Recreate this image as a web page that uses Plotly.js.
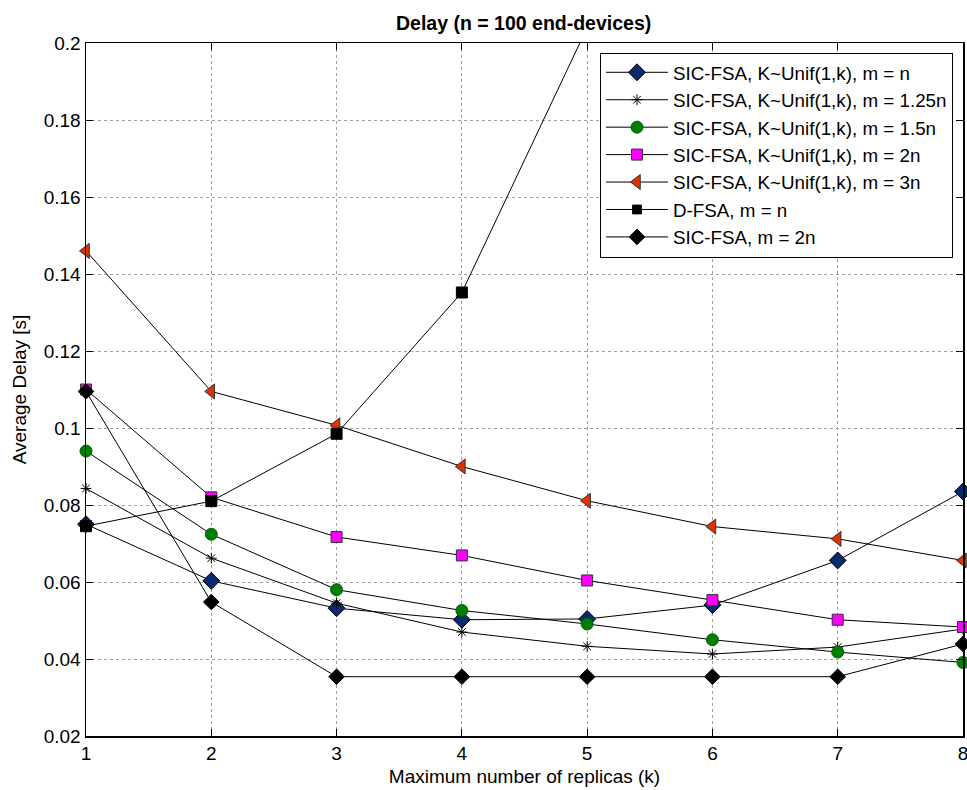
<!DOCTYPE html>
<html>
<head>
<meta charset="utf-8">
<script src="https://cdn.plot.ly/plotly-3.0.1.min.js"></script>
<style>html,body{margin:0;padding:0;background:#fff;}#chart{width:967px;height:790px;}</style>
</head>
<body>
<div id="chart"></div>
<script>
// ---- data ----
const k = [1, 2, 3, 4, 5, 6, 7, 8];
const kDfsa = [1, 2, 3, 4, 5];

const sicUnifN    = [0.0750, 0.0603, 0.0532, 0.0502, 0.0504, 0.0540, 0.0656, 0.0835];
const sicUnif125n = [0.0843, 0.0662, 0.0545, 0.0470, 0.0433, 0.0413, 0.0431, 0.0478];
const sicUnif15n  = [0.0940, 0.0724, 0.0580, 0.0526, 0.0491, 0.0450, 0.0418, 0.0391];
const sicUnif2n   = [0.1100, 0.0820, 0.0717, 0.0669, 0.0604, 0.0553, 0.0502, 0.0483];
const sicUnif3n   = [0.1460, 0.1095, 0.1007, 0.0900, 0.0811, 0.0744, 0.0712, 0.0656];
const dfsaN       = [0.0745, 0.0810, 0.0985, 0.1352, 0.2040];
const sic2n       = [0.1095, 0.0548, 0.0354, 0.0354, 0.0354, 0.0354, 0.0354, 0.0439];

const seriesNames = [
  'SIC-FSA, K~Unif(1,k), m = n',
  'SIC-FSA, K~Unif(1,k), m = 1.25n',
  'SIC-FSA, K~Unif(1,k), m = 1.5n',
  'SIC-FSA, K~Unif(1,k), m = 2n',
  'SIC-FSA, K~Unif(1,k), m = 3n',
  'D-FSA, m = n',
  'SIC-FSA, m = 2n'
];

const yTickVals = [0.02, 0.04, 0.06, 0.08, 0.1, 0.12, 0.14, 0.16, 0.18, 0.2];
const yTickText = ['0.02', '0.04', '0.06', '0.08', '0.1', '0.12', '0.14', '0.16', '0.18', '0.2'];
const xTickText = ['1', '2', '3', '4', '5', '6', '7', '8'];

const titleText = 'Delay (n = 100 end-devices)';
const xTitle = 'Maximum number of replicas (k)';
const yTitle = 'Average Delay [s]';

// ---- traces ----
const lineStyle = {color: '#000000', width: 1};
function tr(x, y, name, marker) {
  marker.opacity = 1;
  return {x: x, y: y, name: name, type: 'scatter', mode: 'lines+markers',
          line: lineStyle, marker: marker, cliponaxis: false};
}
const traces = [
  tr(k, sicUnifN, seriesNames[0], {symbol: 'diamond', size: 13, color: '#0a2a6e', line: {color: '#000', width: 1}}),
  tr(k, sicUnif125n, seriesNames[1], {symbol: 'asterisk-open', size: 9, color: '#000', line: {color: '#000', width: 1}}),
  tr(k, sicUnif15n, seriesNames[2], {symbol: 'circle', size: 12, color: '#008000', line: {color: '#0a5a0a', width: 1}}),
  tr(k, sicUnif2n, seriesNames[3], {symbol: 'square', size: 11, color: '#ff00ff', line: {color: '#333', width: 1}}),
  tr(k, sicUnif3n, seriesNames[4], {symbol: 'triangle-left', size: 13, color: '#dd3300', line: {color: '#333', width: 1}}),
  tr(kDfsa, dfsaN, seriesNames[5], {symbol: 'square', size: [11, 11, 11, 11, 0], color: '#000', line: {color: '#000', width: 1}}),
  tr(k, sic2n, seriesNames[6], {symbol: 'diamond', size: 12, color: '#000', line: {color: '#000', width: 1}})
];

const font = {family: 'Arial, "Liberation Sans", sans-serif', size: 19, color: '#000'};

const layout = {
  width: 967, height: 790,
  margin: {l: 86, r: 4, t: 43, b: 54, pad: 0},
  paper_bgcolor: '#ffffff', plot_bgcolor: '#ffffff',
  font: font,
  showlegend: true,
  title: {text: titleText, font: {family: font.family, size: 19.5, color: '#000', weight: 'bold'},
          x: 0.5415, xanchor: 'center', y: 0.971, yanchor: 'middle', xref: 'container', yref: 'container'},
  xaxis: {
    range: [1, 8], tickvals: k, ticktext: xTickText, ticklabeloverflow: 'allow',
    showline: true, linecolor: '#000', linewidth: 1.5, mirror: 'ticks',
    ticks: 'inside', ticklen: 7, tickcolor: '#000', tickwidth: 1,
    showgrid: true, gridcolor: '#a0a0a0', griddash: 'dot', gridwidth: 1,
    zeroline: false, tickfont: font,
    title: {text: xTitle, font: font, standoff: 6}
  },
  yaxis: {
    range: [0.02, 0.2], tickvals: yTickVals, ticktext: yTickText, ticklabeloverflow: 'allow',
    showline: true, linecolor: '#000', linewidth: 1.5, mirror: 'ticks',
    ticks: 'inside', ticklen: 7, tickcolor: '#000', tickwidth: 1,
    showgrid: true, gridcolor: '#a0a0a0', griddash: 'dot', gridwidth: 1,
    zeroline: false, tickfont: font,
    title: {text: yTitle, font: font, standoff: 12}
  },
  legend: {
    x: 0.9886, xanchor: 'right', y: 0.9862, yanchor: 'top',
    bgcolor: '#ffffff', bordercolor: '#000', borderwidth: 1,
    font: {family: font.family, size: 18.8, color: '#000'},
    itemwidth: 62, tracegroupgap: 0
  }
};

Plotly.newPlot('chart', traces, layout, {displayModeBar: false, staticPlot: true});
</script>
</body>
</html>
